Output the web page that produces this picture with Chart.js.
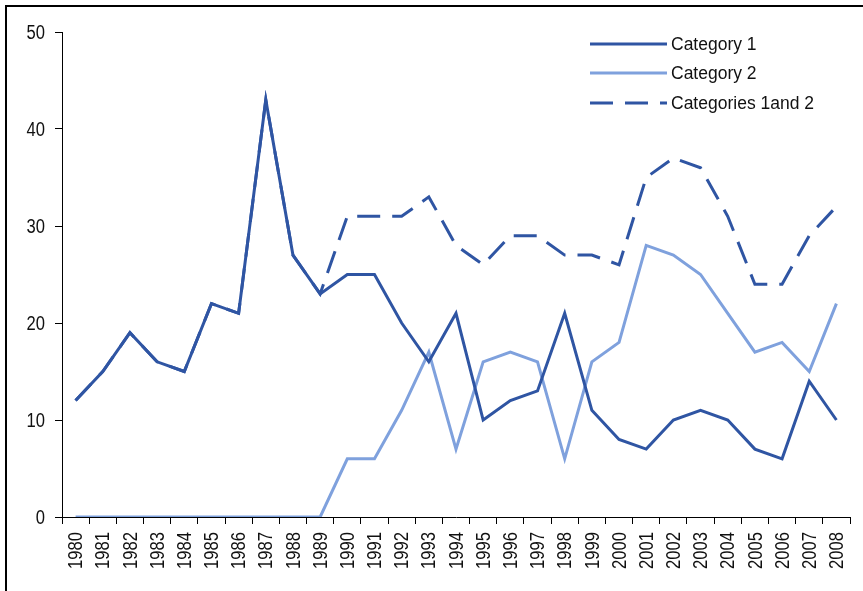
<!DOCTYPE html>
<html>
<head>
<meta charset="utf-8">
<script src="https://cdn.jsdelivr.net/npm/chart.js@4.4.1/dist/chart.umd.min.js"></script>
<style>
    html, body { margin: 0; padding: 0; background: #fff; }
    #wrap { width: 863px; height: 591px; position: relative; }
</style>
</head>
<body>
<div id="wrap"><canvas id="chart" width="863" height="591"></canvas></div>
<script>
// Years on the x axis
const years = ['1980', '1981', '1982', '1983', '1984', '1985', '1986', '1987', '1988', '1989',
    '1990', '1991', '1992', '1993', '1994', '1995', '1996', '1997', '1998', '1999',
    '2000', '2001', '2002', '2003', '2004', '2005', '2006', '2007', '2008'];

// Series values
const category1 = [12, 15, 19, 16, 15, 22, 21, 43, 27, 23,
    25, 25, 20, 16, 21, 10, 12, 13, 21, 11,
    8, 7, 10, 11, 10, 7, 6, 14, 10];
const category2 = [0, 0, 0, 0, 0, 0, 0, 0, 0, 0,
    6, 6, 11, 17, 7, 16, 17, 16, 6, 16,
    18, 28, 27, 25, 21, 17, 18, 15, 22];
const categoriesBoth = [12, 15, 19, 16, 15, 22, 21, 43, 27, 23,
    31, 31, 31, 33, 28, 26, 29, 29, 27, 27,
    26, 35, 37, 36, 31, 24, 24, 29, 32];

const seriesNames = ['Category 1', 'Category 2', 'Categories 1and 2'];
const yTicks = [0, 10, 20, 30, 40, 50];

const darkBlue = '#2f55a3';
const lightBlue = '#7fa1dd';
const tickFont = '20.5px "Liberation Sans", Arial, sans-serif';
const narrow = 0.81; // squeeze to look like Arial Narrow

// Outer frame + white background
const framePlugin = {
    id: 'frame',
    beforeDraw(chart) {
        const ctx = chart.ctx;
        ctx.save();
        ctx.fillStyle = '#fff';
        ctx.fillRect(0, 0, chart.width, chart.height);
        ctx.strokeStyle = '#000';
        ctx.lineWidth = 2;
        ctx.strokeRect(6, 6, chart.width + 20, chart.height + 20);
        ctx.restore();
    }
};

// Narrow tick labels, placed from the scales' own tick positions
const tickLabelPlugin = {
    id: 'narrowTicks',
    afterDraw(chart) {
        const ctx = chart.ctx;
        const xs = chart.scales.x;
        const ys = chart.scales.y;
        ctx.save();
        ctx.font = tickFont;
        ctx.fillStyle = '#111';

        // y labels
        ctx.textAlign = 'right';
        ctx.textBaseline = 'middle';
        ys.ticks.forEach((t, i) => {
            const y = ys.getPixelForTick(i);
            ctx.save();
            ctx.translate(45, y + 1);
            ctx.scale(narrow, 1);
            ctx.fillText(String(t.value), 0, 0);
            ctx.restore();
        });

        // x labels, rotated to read bottom-up
        xs.ticks.forEach((t, i) => {
            const x = xs.getPixelForTick(i);
            ctx.save();
            ctx.translate(x + 1, xs.top + 15);
            ctx.rotate(-Math.PI / 2);
            ctx.scale(narrow, 1);
            ctx.fillText(xs.getLabelForValue(t.value), 0, 0);
            ctx.restore();
        });
        ctx.restore();
    }
};

// Legend drawn inside the plot, top right
const legendPlugin = {
    id: 'insideLegend',
    afterDraw(chart) {
        const ctx = chart.ctx;
        ctx.save();
        ctx.font = '17.5px "Liberation Sans", Arial, sans-serif';
        ctx.textBaseline = 'middle';
        ctx.fillStyle = '#111';
        const rowY = [44, 73, 103];
        chart.data.datasets.forEach((ds, i) => {
            const y = rowY[i];
            ctx.strokeStyle = ds.borderColor;
            ctx.lineWidth = ds.borderWidth;
            ctx.setLineDash(ds.borderDash || []);
            ctx.beginPath();
            ctx.moveTo(590, y);
            ctx.lineTo(667, y);
            ctx.stroke();
            ctx.setLineDash([]);
            ctx.fillText(ds.label, 671, y + 1);
        });
        ctx.restore();
    }
};

const ctx = document.getElementById('chart').getContext('2d');
new Chart(ctx, {
    type: 'line',
    data: {
        labels: years,
        datasets: [
            {
                label: seriesNames[0],
                data: category1,
                borderColor: darkBlue,
                borderWidth: 3,
                pointRadius: 0,
                tension: 0
            },
            {
                label: seriesNames[1],
                data: category2,
                borderColor: lightBlue,
                borderWidth: 3,
                pointRadius: 0,
                tension: 0
            },
            {
                label: seriesNames[2],
                data: categoriesBoth,
                borderColor: darkBlue,
                borderWidth: 3,
                borderDash: [23, 12],
                pointRadius: 0,
                tension: 0
            }
        ]
    },
    options: {
        responsive: false,
        animation: false,
        layout: { padding: { left: 0, top: 32, right: 13, bottom: 0 } },
        plugins: {
            legend: { display: false },
            tooltip: { enabled: false }
        },
        scales: {
            x: {
                offset: true,
                grid: {
                    offset: true,
                    drawOnChartArea: false,
                    color: '#000',
                    tickLength: 7
                },
                border: { display: true, color: '#000', width: 1 },
                ticks: { display: false, autoSkip: false },
                afterFit(scale) { scale.height = 74; }
            },
            y: {
                min: 0,
                max: 50,
                afterBuildTicks(scale) { scale.ticks = yTicks.map(v => ({ value: v })); },
                grid: {
                    drawOnChartArea: false,
                    color: '#000',
                    tickLength: 7
                },
                border: { display: true, color: '#000', width: 1 },
                ticks: { display: false },
                afterFit(scale) { scale.width = 62; }
            }
        }
    },
    plugins: [framePlugin, tickLabelPlugin, legendPlugin]
});
</script>
</body>
</html>
